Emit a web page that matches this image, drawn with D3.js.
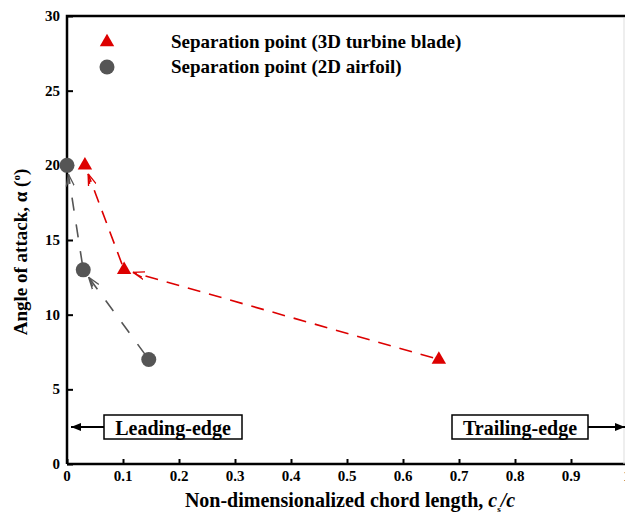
<!DOCTYPE html>
<html>
<head>
<meta charset="utf-8">
<script src="https://cdn.jsdelivr.net/npm/d3@7"></script>
<style>
  body { margin: 0; background: #fff; }
  text { font-family: "Liberation Serif", "Times New Roman", serif; font-weight: bold; }
</style>
</head>
<body>
<script>
// Separation point vs angle of attack

// data
var bladeChord = [0.032, 0.102, 0.664];   // 3D turbine blade, c_s/c
var bladeAoa = [20, 13, 7];
var airfoilChord = [0, 0.029, 0.146];     // 2D airfoil
var airfoilAoa = [20, 13, 7];
var xTicks = [0, 0.1, 0.2, 0.3, 0.4, 0.5, 0.6, 0.7, 0.8, 0.9, 1];
var yTicks = [0, 5, 10, 15, 20, 25, 30];
var legendNames = ["Separation point (3D turbine blade)", "Separation point (2D airfoil)"];

var w = 625, h = 515;
var red = "#dd0000", grey = "#555555";

var svg = d3.select("body")
  .append("svg")
  .attr("width", w)
  .attr("height", h);

// scales
var x = d3.scaleLinear().domain([0, 1]).range([67, 627]);
var y = d3.scaleLinear().domain([0, 30]).range([464, 16]);

// arrow markers
var defs = svg.append("defs");
[["arrRed", red], ["arrGrey", grey]].forEach(function(m){
  defs.append("marker")
    .attr("id", m[0])
    .attr("viewBox", "0 0 12 10")
    .attr("refX", 12).attr("refY", 5)
    .attr("markerWidth", 12).attr("markerHeight", 10)
    .attr("markerUnits", "userSpaceOnUse")
    .attr("orient", "auto")
    .append("path")
    .attr("d", "M0,1 L12,5 L0,9 M2,3 L12,5")
    .attr("fill", "none")
    .attr("stroke", m[1])
    .attr("stroke-width", 1.3);
});
defs.append("marker")
  .attr("id", "arrBlack")
  .attr("viewBox", "0 0 10 8")
  .attr("refX", 10).attr("refY", 4)
  .attr("markerWidth", 10).attr("markerHeight", 8)
  .attr("markerUnits", "userSpaceOnUse")
  .attr("orient", "auto")
  .append("path")
  .attr("d", "M0,0 L10,4 L0,8 Z")
  .attr("fill", "#000");

// axes (ticks point inward)
svg.append("g")
  .attr("transform", "translate(0," + y(0) + ")")
  .call(d3.axisTop(x).tickValues(xTicks).tickSize(5).tickFormat(""))
  .call(function(g){
    g.select(".domain").remove();
    g.selectAll("line").attr("stroke-width", 2);
  });
svg.append("g")
  .attr("transform", "translate(" + x(0) + ",0)")
  .call(d3.axisRight(y).tickValues(yTicks).tickSize(6).tickFormat(""))
  .call(function(g){
    g.select(".domain").remove();
    g.selectAll("line").attr("stroke-width", 2);
  });

// tick labels
svg.selectAll(".xlab")
  .data(xTicks)
  .enter().append("text")
  .attr("x", function(d){ return x(d); })
  .attr("y", 481)
  .attr("text-anchor", "middle")
  .attr("font-size", 15)
  .text(function(d){ return d3.format("")(d); });
svg.selectAll(".ylab")
  .data(yTicks)
  .enter().append("text")
  .attr("x", 60)
  .attr("y", function(d){ return y(d) + 5; })
  .attr("text-anchor", "end")
  .attr("font-size", 15)
  .text(function(d){ return d; });

// frame
svg.append("path")
  .attr("d", "M" + x(0) + "," + y(0) + " V" + y(30) + " H" + x(1) + " M" + x(0) + "," + y(0) + " H" + x(1))
  .attr("fill", "none")
  .attr("stroke", "#000")
  .attr("stroke-width", 2.5);
svg.append("line")
  .attr("x1", 624).attr("x2", 624)
  .attr("y1", y(30) + 2).attr("y2", y(0))
  .attr("stroke", "#dddddd");

// dashed arrows: each point points back to the one before it
function arrows(xs, ys, colour, marker, dash){
  for (var i = xs.length - 1; i > 0; i--) {
    var x1 = x(xs[i]), y1 = y(ys[i]), x2 = x(xs[i - 1]), y2 = y(ys[i - 1]);
    var len = Math.hypot(x2 - x1, y2 - y1);
    var ux = (x2 - x1) / len, uy = (y2 - y1) / len;
    svg.append("line")
      .attr("x1", x1 + ux * 6).attr("y1", y1 + uy * 6)
      .attr("x2", x2 - ux * 9).attr("y2", y2 - uy * 9)
      .attr("stroke", colour)
      .attr("stroke-width", 1.6)
      .attr("stroke-dasharray", dash)
      .attr("marker-end", "url(#" + marker + ")");
  }
}
arrows(bladeChord, bladeAoa, red, "arrRed", "13,9");
arrows(airfoilChord, airfoilAoa, grey, "arrGrey", "13,14");

// markers
var tri = d3.symbol().type(d3.symbolTriangle).size(90);
svg.selectAll(".blade")
  .data(bladeChord)
  .enter().append("path")
  .attr("d", tri)
  .attr("transform", function(d, i){ return "translate(" + x(d) + "," + y(bladeAoa[i]) + ")"; })
  .attr("fill", red);
svg.selectAll(".airfoil")
  .data(airfoilChord)
  .enter().append("circle")
  .attr("cx", function(d){ return x(d); })
  .attr("cy", function(d, i){ return y(airfoilAoa[i]); })
  .attr("r", 7.5)
  .attr("fill", grey);

// legend
svg.append("path")
  .attr("d", tri)
  .attr("transform", "translate(107,42)")
  .attr("fill", red);
svg.append("circle")
  .attr("cx", 107).attr("cy", 67).attr("r", 7.5)
  .attr("fill", grey);
svg.selectAll(".leg")
  .data(legendNames)
  .enter().append("text")
  .attr("x", 171)
  .attr("y", function(d, i){ return 48 + i * 25; })
  .attr("font-size", 19)
  .text(function(d){ return d; });

// leading / trailing edge boxes
function edgeBox(x0, x1, label, ax0, ax1){
  svg.append("line")
    .attr("x1", ax0).attr("x2", ax1)
    .attr("y1", 427).attr("y2", 427)
    .attr("stroke", "#000")
    .attr("stroke-width", 2)
    .attr("marker-end", "url(#arrBlack)");
  svg.append("rect")
    .attr("x", x0).attr("y", 415)
    .attr("width", x1 - x0).attr("height", 24)
    .attr("fill", "#fff")
    .attr("stroke", "#000")
    .attr("stroke-width", 1.5);
  svg.append("text")
    .attr("x", (x0 + x1) / 2)
    .attr("y", 435)
    .attr("text-anchor", "middle")
    .attr("font-size", 20)
    .text(label);
}
edgeBox(104, 242, "Leading-edge", 104, 71);
edgeBox(452, 588, "Trailing-edge", 588, 625);

// axis titles
var xt = svg.append("text")
  .attr("x", 350)
  .attr("y", 507)
  .attr("text-anchor", "middle")
  .attr("font-size", 20)
  .text("Non-dimensionalized chord length, ");
xt.append("tspan").attr("font-style", "italic").text("c");
xt.append("tspan").attr("font-size", 9).attr("dy", 5).text("s");
xt.append("tspan").attr("font-style", "italic").attr("dy", -5).text("/c");

var yt = svg.append("text")
  .attr("transform", "translate(27,252) rotate(-90)")
  .attr("text-anchor", "middle")
  .attr("font-size", 19)
  .text("Angle of attack, \u03b1 (");
yt.append("tspan").attr("font-size", 11).attr("dy", -7).text("o");
yt.append("tspan").attr("dy", 7).text(")");
</script>
</body>
</html>
